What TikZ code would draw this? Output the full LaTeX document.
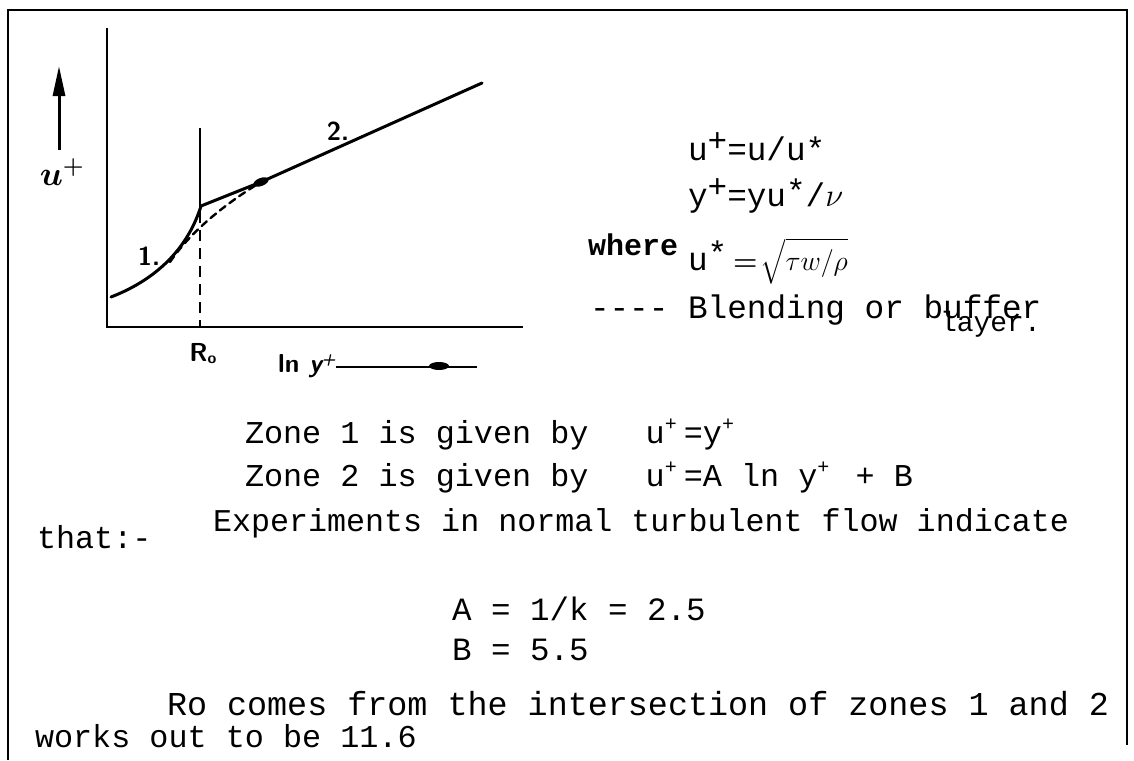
\RequirePackage{fix-cm}
\documentclass[tikz,border=0pt]{standalone}
\usepackage{amsmath}
\usepackage{fontspec}
\setmonofont{Liberation Mono}
\usetikzlibrary{arrows.meta}
\newcommand\plusup{\makebox[0.6em][l]{\raisebox{0.4em}{\fontsize{20}{20}\selectfont +}}}
\newcommand\bigplusup{\raisebox{9pt}{+}}
\tikzset{
  frame/.style={line width=2.4pt},
  axis/.style={line width=2.6pt},
  curve/.style={line width=3pt, line cap=round, line join=round},
  txt/.style={anchor=base west, inner sep=0pt, outer sep=0pt},
  fA/.style={font=\fontsize{32.7}{34}\ttfamily},
  fZ/.style={font=\fontsize{31.8}{33}\ttfamily},
  fE/.style={font=\fontsize{31.7}{33}\ttfamily},
  fR/.style={font=\fontsize{33.4}{35}\ttfamily},
  fAB/.style={font=\fontsize{32.5}{34}\ttfamily},
  hand/.style={font=\fontsize{26}{26}\sffamily\bfseries, inner sep=0pt}
}
\begin{document}
\begin{tikzpicture}[x=1pt,y=-1pt]
\useasboundingbox (0,0) rectangle (1134,760);
% frame
\coordinate (fbl) at (8,760);
\coordinate (ftl) at (8,10);
\coordinate (ftr) at (1127,10);
\coordinate (fbr) at (1127,745);
\draw[frame] (fbl) -- (ftl) -- (ftr) -- (fbr);
% axes
\coordinate (ytop) at (107,28);
\coordinate (O) at (107,327);
\coordinate (xend) at (523,327);
\draw[axis] (ytop) -- (O) -- (xend);
% u+ arrow
\coordinate (arrT) at (59,150);
\coordinate (arrH) at (59,66);
\draw[line width=3pt, -{Triangle[length=30pt,width=12pt]}] (arrT) -- (arrH);
\node[font=\fontsize{34}{34}\selectfont, inner sep=0pt] (ulab) at (62,172) {$\boldsymbol{u}^{\boldsymbol{+}}$};
% Ro line
\coordinate (Rtop) at (200,128);
\coordinate (Rmid) at (200,212);
\coordinate (Rbot) at (200,327);
\draw[line width=2.6pt] (Rtop) -- (Rmid);
\draw[line width=2.6pt, dash pattern=on 11pt off 7pt] (Rmid) -- (Rbot);
% curves
\coordinate (c0) at (111,297);
\coordinate (corner) at (201,206);
\coordinate (kink) at (261,182);
\coordinate (c2end) at (482,83);
\draw[curve] (c0) .. controls (150,282) and (186,254) .. (corner) -- (kink) -- (c2end);
\fill[rotate around={21:(kink)}] (kink) ellipse (8pt and 4pt);
\coordinate (b0) at (170,262);
\draw[line width=2.4pt, line cap=round, dash pattern=on 7pt off 5pt] (b0) .. controls (185,240) and (212,212) .. (kink);
% graph labels
\node[hand] (one) at (149,256) {1.};
\node[hand] (two) at (338,131) {2.};
\node[hand] (Ro) at (203,354) {R\raisebox{-2pt}{\fontsize{16}{16}\selectfont o}};
\node[hand, anchor=base west] (lny) at (278,372) {ln \itshape y\raisebox{8pt}{\fontsize{16}{16}\selectfont +}};
\coordinate (lnend) at (477,367);
\draw[line width=2.6pt] (lny.east |- lnend) -- (lnend);
\fill (439,366) ellipse (10pt and 4pt);
% right block
\node[txt,fA] (t1) at (688,160) {u\bigplusup=u/u*};
\node[txt,fA] (t2) at (688,206) {y\bigplusup=yu\raisebox{4pt}{*}/$\nu$};
\node[txt,font=\fontsize{30}{30}\ttfamily\bfseries] (t3) at (588,255) {where};
\node[txt,fA] (t3b) at (688,270) {u\raisebox{6pt}{*}};
\node[txt,font=\fontsize{28}{28}\selectfont] (t3c) at (733,270) {$\boldsymbol{=}\!\sqrt{\tau w/\rho}$};
\node[txt,fA] (t4) at (590,318) {---- Blending or buffer};
\node[txt,font=\fontsize{28}{28}\ttfamily] (t5) at (940,331) {layer.};
% zones
\node[txt,fZ] (z1) at (245,443) {Zone 1 is given by~~~u\plusup=y\plusup};
\node[txt,fZ] (z2) at (245,486) {Zone 2 is given by~~~u\plusup=A ln y\plusup{} + B};
% experiments
\node[txt,fE] (e1) at (213,531) {Experiments in normal turbulent flow indicate};
\node[txt,fZ] (that) at (37,548) {that:-};
\node[txt,fAB] (A) at (452,620) {A = 1/k = 2.5};
\node[txt,fAB] (B) at (452,660) {B = 5.5};
\node[txt,fR] (r1) at (167,715) {Ro comes from the intersection of zones 1 and 2};
\node[txt,fZ] (r2) at (35,747) {works out to be 11.6};
\end{tikzpicture}
\end{document}
